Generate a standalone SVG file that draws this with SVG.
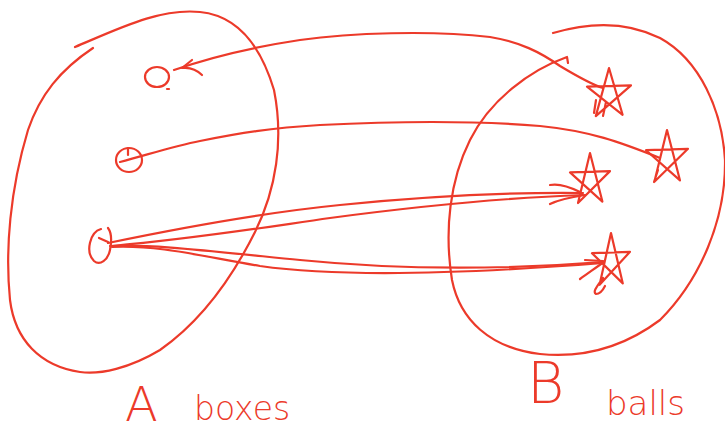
<svg xmlns="http://www.w3.org/2000/svg" width="725" height="434" viewBox="0 0 725 434">
<style>
.ink{fill:none;stroke:#EC3A2A;stroke-width:2.2;stroke-linecap:round;stroke-linejoin:round}
.lbl{fill:#EC3A2A;font-family:"DejaVu Sans","Liberation Sans",sans-serif;font-weight:200}
</style>
<rect width="725" height="434" fill="#fff"/>
<g id="setA"><path class="ink" d="M75,47 C120,28 160,8 200,12 C240,16 262,50 274,90 C284,140 276,190 255,232 C230,282 200,322 160,350 C130,368 100,375 80,372 C40,366 15,340 10,300 C5,250 10,190 28,130 C40,95 60,70 93,48"/></g>
<g id="setB"><path class="ink" d="M553,33 C580,25 620,18 660,38 C700,60 722,110 725,160 C726,220 700,280 660,320 C620,350 580,358 540,354 C490,348 460,320 452,280 C444,230 450,180 470,140 C490,100 530,70 567,57 L568,63"/></g>
<g id="connectors" class="ink">
<path d="M603,88 C590,84 575,75 560,66 C540,52 520,42 490,37 C430,30 350,33 300,40 C260,46 220,54 174,70"/>
<path d="M192,60 L182,68 C190,67 197,70 202,75"/>
<path d="M120,162 C150,154 175,146 200,141 C240,133 270,128 320,125 C400,121 480,121 540,126 C590,131 620,142 660,158"/>
<path d="M108,243 C180,228 260,213 340,205 C420,197 500,192 583,193"/>
<path d="M112,246 C200,238 260,228 330,218 C420,206 500,198 583,195"/>
<path d="M550,185 C560,183 570,187 580,192 M550,204 C560,199 572,197 585,195"/>
<path d="M110,246 C150,244 200,250 300,260 C400,270 500,270 603,262"/>
<path d="M112,247 C160,245 200,256 260,266 C330,276 450,275 603,263"/>
<path d="M585,260 L603,261 M580,279 C590,272 598,266 604,262"/>
</g>
<g id="a1" class="ink"><ellipse cx="157" cy="77" rx="12" ry="10"/><path d="M167,89 L169,89"/></g>
<g id="a2" class="ink"><ellipse cx="129" cy="160" rx="13" ry="12"/><path d="M128,148 L128,155"/></g>
<g id="a3" class="ink"><path d="M101,229 C90,232 85,252 94,261 C100,266 108,260 110,250 C112,240 111,232 108,228 M99,238 L108,242"/></g>
<g id="b1" class="ink"><path d="M609,68 L622.6,114.8 L587,86.7 L631,85.4 L595.8,116.1 Z M596,100 L594,113 M606,102 L603,116"/></g>
<g id="b2" class="ink"><path d="M667,130 L680,180.4 L646,150.2 L688,148.8 L654.4,181.8 Z M658,170 L654,182"/></g>
<g id="b3" class="ink"><path d="M590,153 L602.4,201.6 L570,172.4 L610,171.1 L578,203 Z"/></g>
<g id="b4" class="ink"><path d="M611,233 L622.8,283.4 L592,253.2 L630,251.8 L599.6,284.8 Z M603,278 C598,285 592,292 596,294 C600,294 603,290 605,286"/></g>
<text class="lbl" x="125" y="421" font-size="48">A</text>
<text class="lbl" x="194" y="420" font-size="33">boxes</text>
<text class="lbl" x="527" y="403" font-size="57">B</text>
<text class="lbl" x="606" y="415" font-size="34">balls</text>
</svg>
